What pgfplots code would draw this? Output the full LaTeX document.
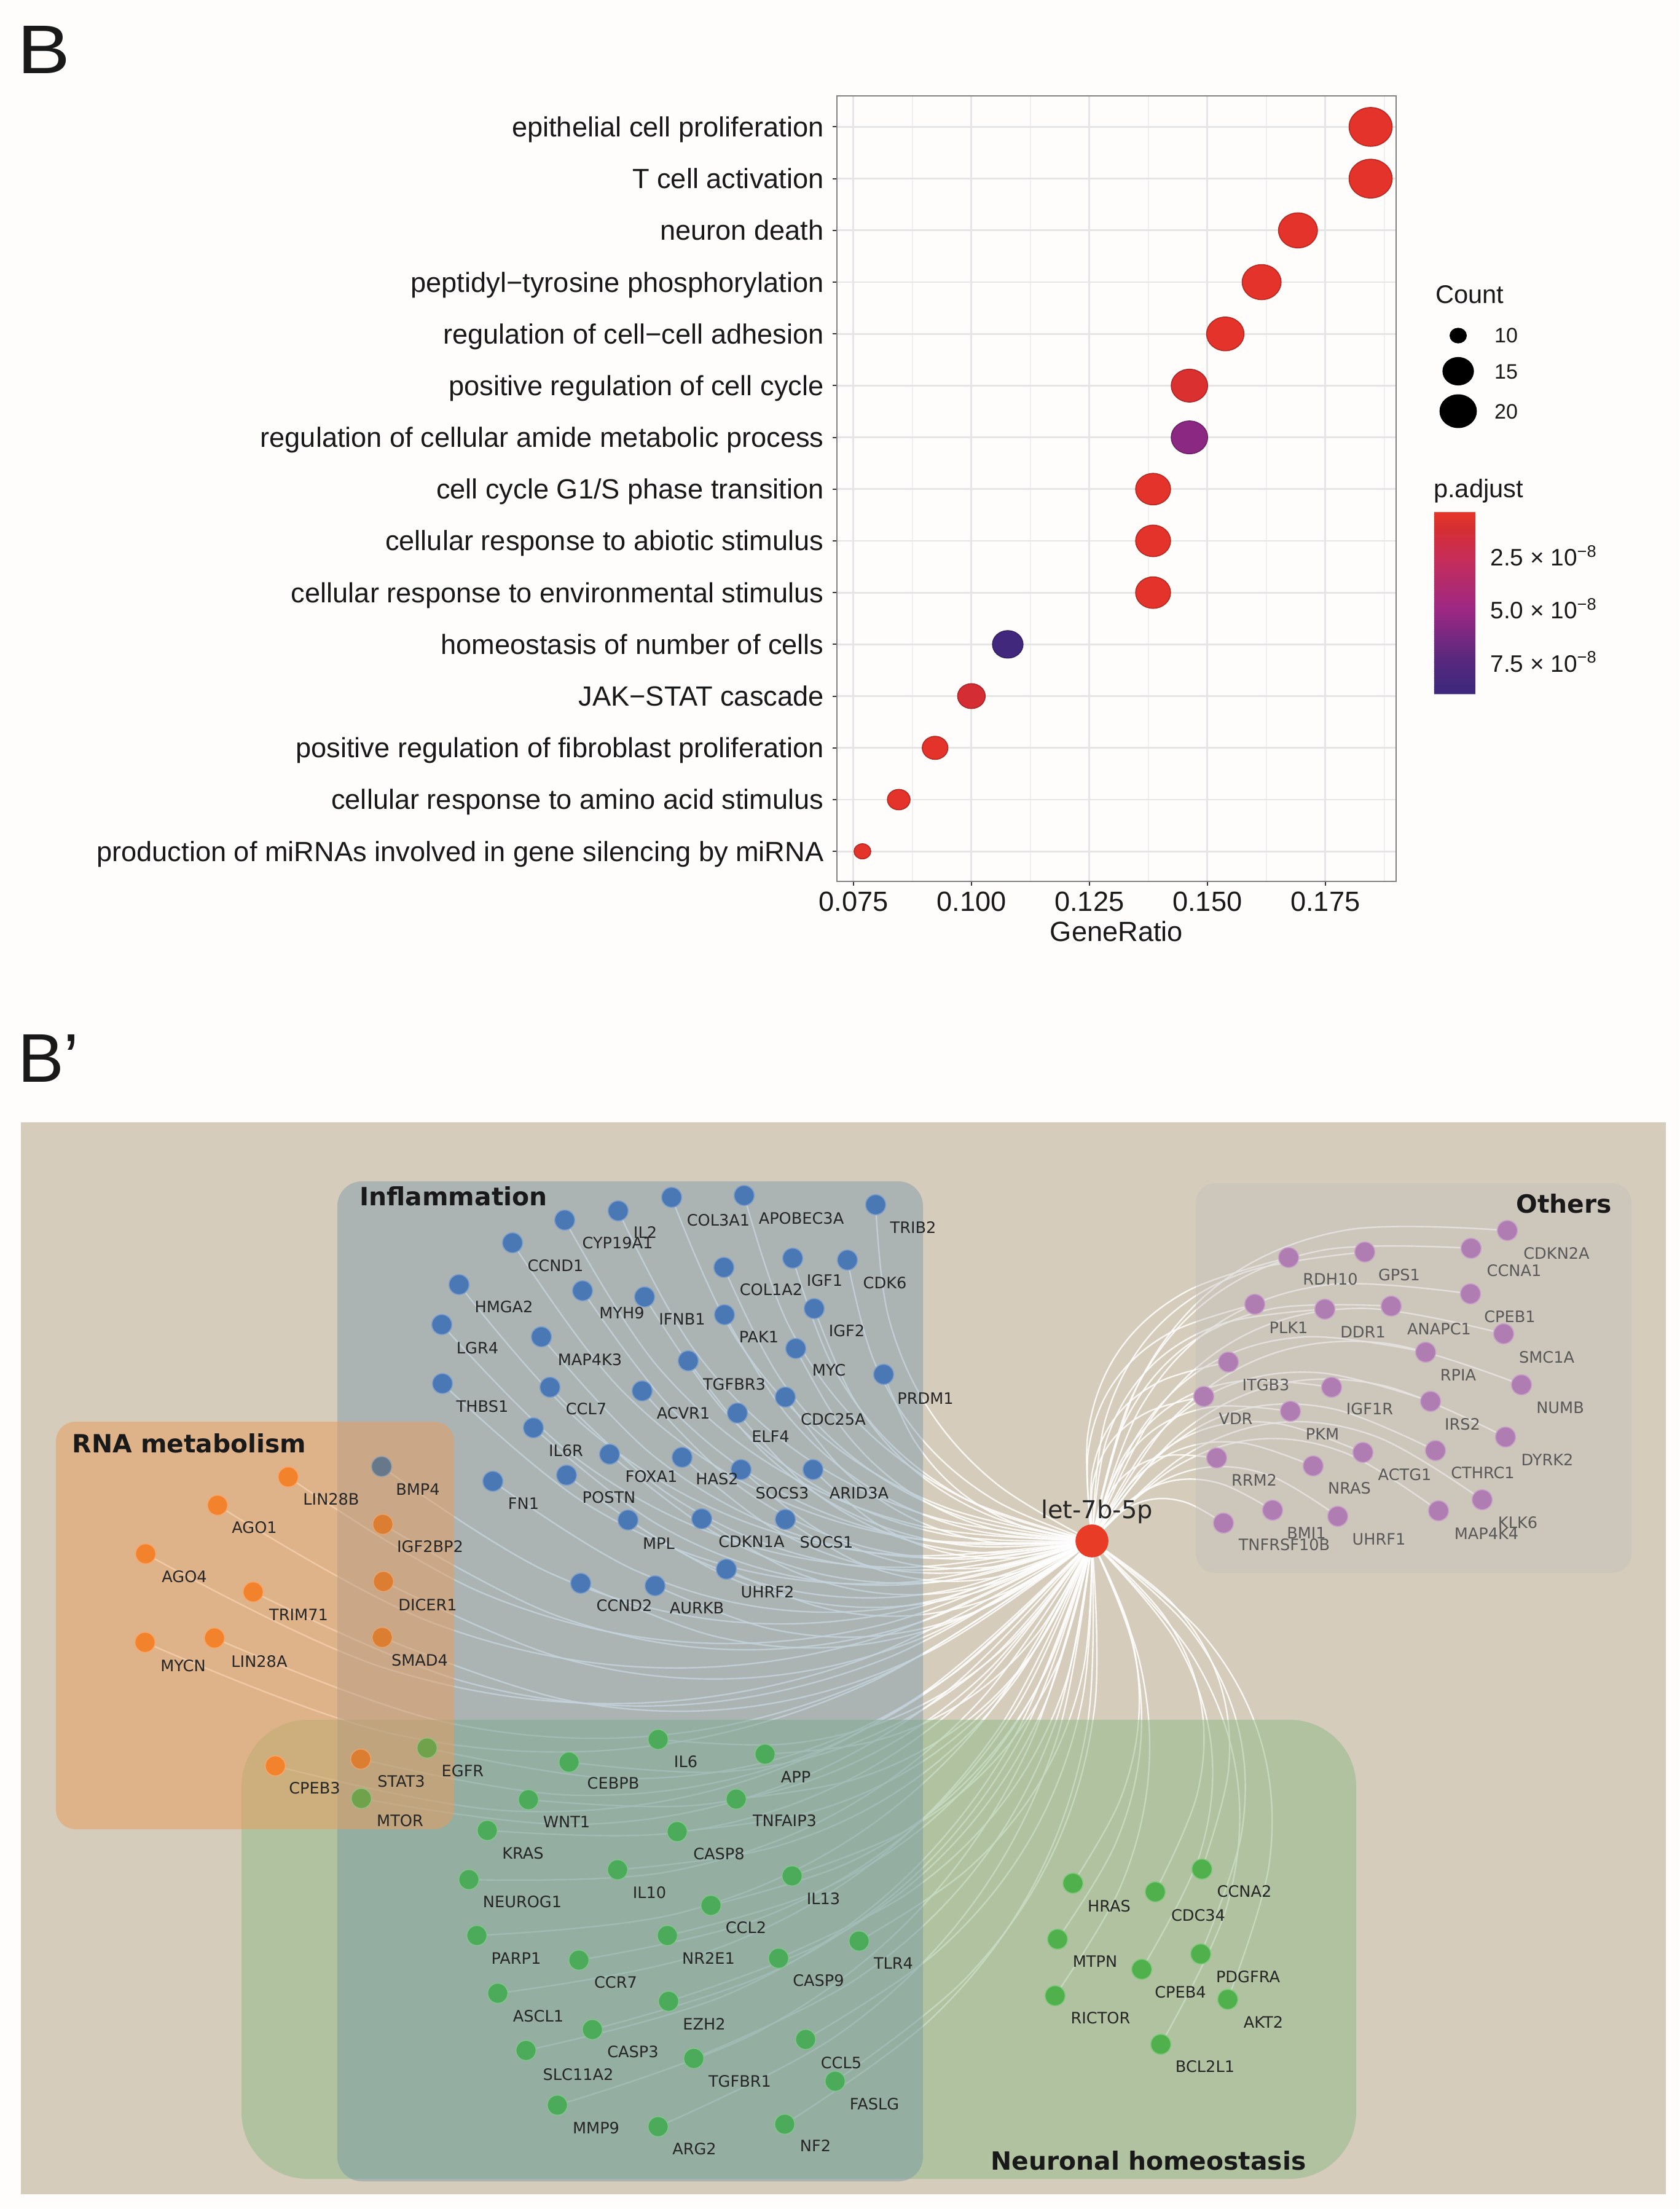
\documentclass[border=0pt]{standalone}
\usepackage{pgfplots}
\usepackage{pgfplotstable}
\usepackage{fontspec}
\pgfplotsset{compat=1.18}
\setmainfont{Liberation Sans}
\newfontfamily\dejavu{DejaVu Sans}
\definecolor{pagebg}{HTML}{FEFDFB}
\definecolor{netbg}{HTML}{D5CCBB}
\definecolor{nb}{HTML}{4A78B4}
\definecolor{ngr}{HTML}{66788A}
\definecolor{no}{HTML}{F2822C}
\definecolor{nd}{HTML}{DB7E32}
\definecolor{ng}{HTML}{4CAB5A}
\definecolor{nh}{HTML}{4FB04C}
\definecolor{nl}{HTML}{6FA24A}
\definecolor{np}{HTML}{B07DB2}
\definecolor{nr}{HTML}{E83C27}
\definecolor{rinf}{RGB}{108,144,167}
\definecolor{rrna}{RGB}{233,156,91}
\definecolor{rneu}{RGB}{143,186,135}
\definecolor{roth}{RGB}{195,189,185}

\pgfplotstableread{
x y lx ly c label
1093 1948 1169 1985 b COL3A1
1211 1945 1304 1982 b APOBEC3A
1425 1960 1486 1997 b TRIB2
1006 1970 1050 2005 b IL2
919 1985 1005 2022 b CYP19A1
834 2022 904 2059 b CCND1
1178 2062 1255 2098 b COL1A2
1290 2047 1342 2083 b IGF1
1379 2050 1440 2087 b CDK6
747 2090 820 2126 b HMGA2
948 2100 1012 2136 b MYH9
1049 2110 1110 2146 b IFNB1
1179 2139 1235 2175 b PAK1
1325 2129 1378 2165 b IGF2
719 2155 777 2193 b LGR4
881 2175 960 2212 b MAP4K3
1295 2194 1349 2229 b MYC
1120 2214 1195 2252 b TGFBR3
1438 2236 1506 2275 b PRDM1
720 2251 785 2288 b THBS1
895 2257 954 2292 b CCL7
1045 2263 1112 2299 b ACVR1
1278 2273 1356 2309 b CDC25A
1200 2299 1254 2337 b ELF4
868 2323 921 2360 b IL6R
992 2366 1060 2402 b FOXA1
1110 2371 1167 2406 b HAS2
1206 2391 1273 2429 b SOCS3
1323 2391 1398 2429 b ARID3A
922 2400 991 2436 b POSTN
802 2410 852 2446 b FN1
1022 2473 1072 2511 b MPL
1142 2471 1223 2508 b CDKN1A
1278 2472 1345 2509 b SOCS1
1182 2553 1249 2590 b UHRF2
945 2576 1016 2612 b CCND2
1066 2580 1134 2616 b AURKB
621 2386 680 2423 B BMP4
469 2403 539 2439 o LIN28B
354 2449 414 2485 o AGO1
623 2480 700 2516 d IGF2BP2
237 2528 300 2565 o AGO4
624 2573 696 2611 d DICER1
412 2590 486 2627 o TRIM71
622 2664 683 2701 d SMAD4
236 2672 298 2710 o MYCN
349 2665 422 2703 o LIN28A
448 2873 512 2909 o CPEB3
587 2862 653 2898 d STAT3
695 2844 753 2881 l EGFR
588 2926 651 2962 l MTOR
1071 2830 1116 2866 g IL6
1245 2854 1295 2891 g APP
926 2867 998 2901 g CEBPB
860 2928 922 2964 g WNT1
1198 2927 1277 2962 g TNFAIP3
793 2978 851 3015 g KRAS
1102 2980 1170 3016 g CASP8
1005 3042 1057 3079 g IL10
1289 3052 1340 3089 g IL13
763 3058 850 3094 g NEUROG1
1157 3100 1214 3136 g CCL2
776 3149 840 3186 g PARP1
1086 3149 1153 3186 g NR2E1
942 3189 1002 3225 g CCR7
1267 3186 1332 3222 g CASP9
1398 3158 1454 3194 g TLR4
810 3243 876 3280 g ASCL1
1088 3256 1146 3293 g EZH2
964 3302 1030 3338 g CASP3
856 3336 941 3375 g SLC11A2
1311 3318 1369 3356 g CCL5
1129 3349 1204 3386 g TGFBR1
1359 3386 1423 3423 g FASLG
907 3425 970 3462 g MMP9
1071 3460 1130 3496 g ARG2
1277 3456 1327 3491 g NF2
1746 3064 1805 3101 h HRAS
1880 3078 1950 3116 h CDC34
1956 3041 2025 3077 h CCNA2
1721 3155 1782 3191 h MTPN
1858 3204 1921 3241 h CPEB4
1954 3179 2031 3216 h PDGFRA
1717 3247 1791 3283 h RICTOR
1998 3253 2056 3290 h AKT2
1889 3326 1961 3362 h BCL2L1
}\nodesmain

\pgfplotstableread{
x y lx ly c label
2453 2002 2533 2039 p CDKN2A
2394 2031 2464 2067 p CCNA1
2221 2037 2277 2074 p GPS1
2097 2046 2165 2081 p RDH10
2393 2105 2457 2142 p CPEB1
2042 2122 2097 2160 p PLK1
2156 2130 2218 2167 p DDR1
2264 2125 2342 2162 p ANAPC1
2447 2170 2517 2208 p SMC1A
2320 2200 2373 2237 p RPIA
1999 2216 2060 2253 p ITGB3
2476 2253 2539 2290 p NUMB
2167 2257 2229 2292 p IGF1R
1959 2272 2011 2308 p VDR
2100 2296 2152 2333 p PKM
2328 2280 2380 2317 p IRS2
2450 2338 2518 2375 p DYRK2
2336 2360 2413 2396 p CTHRC1
2218 2363 2286 2399 p ACTG1
1980 2372 2041 2408 p RRM2
2137 2385 2196 2421 p NRAS
2412 2440 2470 2477 p KLK6
2341 2458 2419 2495 p MAP4K4
2071 2457 2126 2494 p BMI1
2177 2467 2244 2504 p UHRF1
1991 2478 2090 2513 p TNFRSF10B
}\nodesother

% GO dot plot: row (15 = top), gene ratio, p.adjust in 1e-8, marker radius in pt
\pgfplotstableread{
row ratio p r
15 0.1846 0.6 8.75
14 0.1846 0.6 8.75
13 0.1692 0.6 7.9
12 0.1615 0.6 7.9
11 0.1538 0.6 7.6
10 0.1462 1.0 7.4
9 0.1462 5.7 7.4
8 0.1385 0.6 7.1
7 0.1385 0.6 7.1
6 0.1385 0.6 7.1
5 0.1077 8.7 6.2
4 0.1000 1.3 5.6
3 0.0923 0.6 5.2
2 0.0846 0.6 4.6
1 0.0769 0.6 3.4
}\dotdata

\pgfplotstableread{
x y r
2373 546 3.3
2373 604 6.2
2373 669 7.4
}\sizelegend

\newcommand{\drawedges}[1]{%
  \pgfplotstablegetrowsof{#1}%
  \pgfmathtruncatemacro\lastrow{\pgfplotsretval-1}%
  \pgfplotsforeachungrouped \i in {0,...,\lastrow}{%
    \pgfplotstablegetelem{\i}{x}\of{#1}\let\tx\pgfplotsretval
    \pgfplotstablegetelem{\i}{y}\of{#1}\let\ty\pgfplotsretval
    \pgfmathsetmacro\dx{\tx-1777}%
    \pgfmathsetmacro\dy{\ty-2507}%
    \pgfmathsetmacro\kk{\dx>0 ? (\dy>0 ? 0.44 : 0.5) : 0.33}%
    \pgfmathsetmacro\qa{0.375*\kk}%
    \pgfmathsetmacro\qb{0.5*\kk}%
    \pgfmathsetmacro\ax{1777+0.25*\dx+\qa*\dy}%
    \pgfmathsetmacro\ay{2507+0.25*\dy-\qa*\dx}%
    \pgfmathsetmacro\bx{1777+0.5*\dx+\qb*\dy}%
    \pgfmathsetmacro\by{2507+0.5*\dy-\qb*\dx}%
    \pgfmathsetmacro\cx{1777+0.75*\dx+\qa*\dy}%
    \pgfmathsetmacro\cy{2507+0.75*\dy-\qa*\dx}%
    \edef\temp{\noexpand\addplot[edge] coordinates {(1777,2507) (\ax,\ay) (\bx,\by) (\cx,\cy) (\tx,\ty)};}%
    \temp
  }%
}

\begin{document}
\begin{tikzpicture}
\path[use as bounding box] (0,0) rectangle (683.25pt,898.5pt);
\begin{axis}[
  at={(0pt,0pt)},anchor=south west,
  scale only axis,width=683.25pt,height=898.5pt,
  xmin=0,xmax=2733,ymin=0,ymax=3594,y dir=reverse,
  hide axis,
  edge/.style={draw=white,opacity=0.85,line width=0.6pt,smooth,tension=0.6,no marks,forget plot},
  rect/.style={draw=none,no marks,forget plot},
  netmarks/.style={scatter,only marks,scatter src=explicit symbolic,mark size=4.1pt,forget plot,
    scatter/classes={
      b={mark=*,fill=nb,draw=nb!70!white},
      B={mark=*,fill=ngr,draw=ngr!70!white},
      o={mark=*,fill=no,draw=no!70!white},
      d={mark=*,fill=nd,draw=nd!70!white},
      g={mark=*,fill=ng,draw=ng!70!white},
      h={mark=*,fill=nh,draw=nh!70!white},
      l={mark=*,fill=nl,draw=nl!70!white},
      p={mark=*,fill=np,draw=np!70!white}}},
  netlabels/.style={only marks,mark=*,mark size=0pt,forget plot,
    mark options={draw=none,fill=none},
    point meta=explicit symbolic,nodes near coords,
    nodes near coords style={anchor=center,inner sep=0pt,font=\dejavu\fontsize{6.4}{7}\selectfont,text=#1}},
]
% page and network background
\addplot[rect,fill=pagebg] coordinates {(0,0)(2733,0)(2733,3594)(0,3594)} -- cycle;
\addplot[rect,fill=netbg] coordinates {(34,1826)(2711,1826)(2711,3570)(34,3570)} -- cycle;
% edges
\drawedges{\nodesmain}
\drawedges{\nodesother}
% group panels
\addplot[rect,fill=rneu,fill opacity=0.5,rounded corners=27pt] coordinates {(393,2798)(2207,2798)(2207,3545)(393,3545)} -- cycle;
\addplot[rect,fill=rinf,fill opacity=0.4,rounded corners=10pt] coordinates {(549,1922)(1502,1922)(1502,3549)(549,3549)} -- cycle;
\addplot[rect,fill=rrna,fill opacity=0.5,rounded corners=8pt] coordinates {(91,2313)(739,2313)(739,2976)(91,2976)} -- cycle;
\addplot[rect,fill=roth,fill opacity=0.4,rounded corners=8pt] coordinates {(1946,1925)(2655,1925)(2655,2559)(1946,2559)} -- cycle;
% gene nodes
\addplot[netmarks] table[x=x,y=y,meta=c] {\nodesmain};
\addplot[netmarks] table[x=x,y=y,meta=c] {\nodesother};
\addplot[only marks,mark=*,mark size=6.5pt,fill=nr,draw=nr,forget plot] coordinates {(1777,2507)};
% gene labels
\addplot[netlabels={black!85}] table[x=lx,y=ly,meta=label] {\nodesmain};
\addplot[netlabels={black!65}] table[x=lx,y=ly,meta=label] {\nodesother};
% size legend
\addplot[only marks,mark=*,black,forget plot,mark options={yscale=0.9},
  scatter,scatter/use mapped color={draw=black,fill=black},
  visualization depends on={\thisrow{r}\as\rr},
  scatter/@pre marker code/.append style={/tikz/mark size=\rr}]
  table[x=x,y=y,meta=r] {\sizelegend};
% texts
\node[font=\dejavu\bfseries\fontsize{10.2}{11}\selectfont,anchor=center,text=black!90] at (axis cs:738,1946) {Inflammation};
\node[font=\dejavu\bfseries\fontsize{10.2}{11}\selectfont,anchor=center,text=black!90] at (axis cs:308,2348) {RNA metabolism};
\node[font=\dejavu\bfseries\fontsize{10.2}{11}\selectfont,anchor=center,text=black!90] at (axis cs:2545,1958) {Others};
\node[font=\dejavu\bfseries\fontsize{10.2}{11}\selectfont,anchor=center,text=black!90] at (axis cs:1869,3515) {Neuronal homeostasis};
\node[font=\dejavu\fontsize{10}{11}\selectfont,anchor=center,text=black!85] at (axis cs:1785,2459) {let-7b-5p};
\node[font=\fontsize{28}{30}\selectfont,anchor=center,inner sep=0pt,xscale=1.15,text=black!90] at (axis cs:71,81) {B};
\node[font=\fontsize{28}{30}\selectfont,anchor=center,inner sep=0pt,text=black!90] at (axis cs:79,1722) {B’};
\node[font=\fontsize{10.4}{11}\selectfont,anchor=center,text=black!90] at (axis cs:2392,479) {Count};
\node[font=\fontsize{8.5}{9}\selectfont,anchor=center,text=black!90] at (axis cs:2451,546) {10};
\node[font=\fontsize{8.5}{9}\selectfont,anchor=center,text=black!90] at (axis cs:2451,605) {15};
\node[font=\fontsize{8.5}{9}\selectfont,anchor=center,text=black!90] at (axis cs:2451,670) {20};
\node[font=\fontsize{10.4}{11}\selectfont,anchor=center,text=black!90] at (axis cs:2406,799) {p.adjust};
\end{axis}

\begin{axis}[
  at={(340.5pt,540pt)},anchor=south west,
  scale only axis,width=227.5pt,height=319.5pt,
  xmin=0.0715,xmax=0.190,ymin=0.42,ymax=15.6,
  xtick={0.075,0.100,0.125,0.150,0.175},
  xticklabels={0.075,0.100,0.125,0.150,0.175},
  minor xtick={0.0875,0.1125,0.1375,0.1625,0.1875},
  ytick={1,...,15},
  yticklabels={production of miRNAs involved in gene silencing by miRNA,
    cellular response to amino acid stimulus,
    positive regulation of fibroblast proliferation,
    JAK−STAT cascade,
    homeostasis of number of cells,
    cellular response to environmental stimulus,
    cellular response to abiotic stimulus,
    cell cycle G1/S phase transition,
    regulation of cellular amide metabolic process,
    positive regulation of cell cycle,
    regulation of cell−cell adhesion,
    peptidyl−tyrosine phosphorylation,
    neuron death,
    T cell activation,
    epithelial cell proliferation},
  xmajorgrids,ymajorgrids,xminorgrids,
  major grid style={draw=black!10,line width=0.7pt},
  minor grid style={draw=black!6,line width=0.35pt},
  axis line style={draw=black!50,line width=0.6pt},
  tick align=outside,
  xtick pos=bottom,ytick pos=left,
  major tick length=1.8pt,
  major tick style={draw=black!80,line width=0.5pt},
  minor tick length=0pt,
  tick label style={font=\fontsize{11.3}{12}\selectfont,text=black!90},
  xlabel={GeneRatio},
  xlabel style={font=\fontsize{11.3}{12}\selectfont,text=black!90,yshift=3pt},
  xticklabel style={yshift=1pt},
  yticklabel style={text height=8.2pt,text depth=2.2pt,yshift=-1pt},
  colormap={pa}{rgb255(0cm)=(232,52,40); rgb255(0.9cm)=(212,46,52); rgb255(2.1cm)=(200,45,85); rgb255(4.6cm)=(158,40,132); rgb255(7.1cm)=(85,40,125); rgb255(8.6cm)=(60,40,125)},
  point meta min=0.4,point meta max=9,
  colorbar sampled,
  colorbar style={
    samples=80,
    at={(1.068,0.470)},anchor=north west,
    width=16.75pt,height=74pt,
    y dir=reverse,
    ytick={2.5,5,7.5},
    yticklabels={2.5 × 10\textsuperscript{−8},5.0 × 10\textsuperscript{−8},7.5 × 10\textsuperscript{−8}},
    yticklabel style={font=\fontsize{9.7}{10}\selectfont,text=black!90,xshift=2.6pt,yshift=0.3pt},
    axis line style={draw=none},
    major tick length=0pt,
    xlabel={},
  },
]
\addplot[scatter,only marks,mark=*,mark options={yscale=0.9},
  visualization depends on={\thisrow{r}\as\rr},
  scatter/@pre marker code/.append style={/tikz/mark size=\rr},
  point meta=explicit]
  table[x=ratio,y=row,meta=p] {\dotdata};
\end{axis}
\end{tikzpicture}
\end{document}
